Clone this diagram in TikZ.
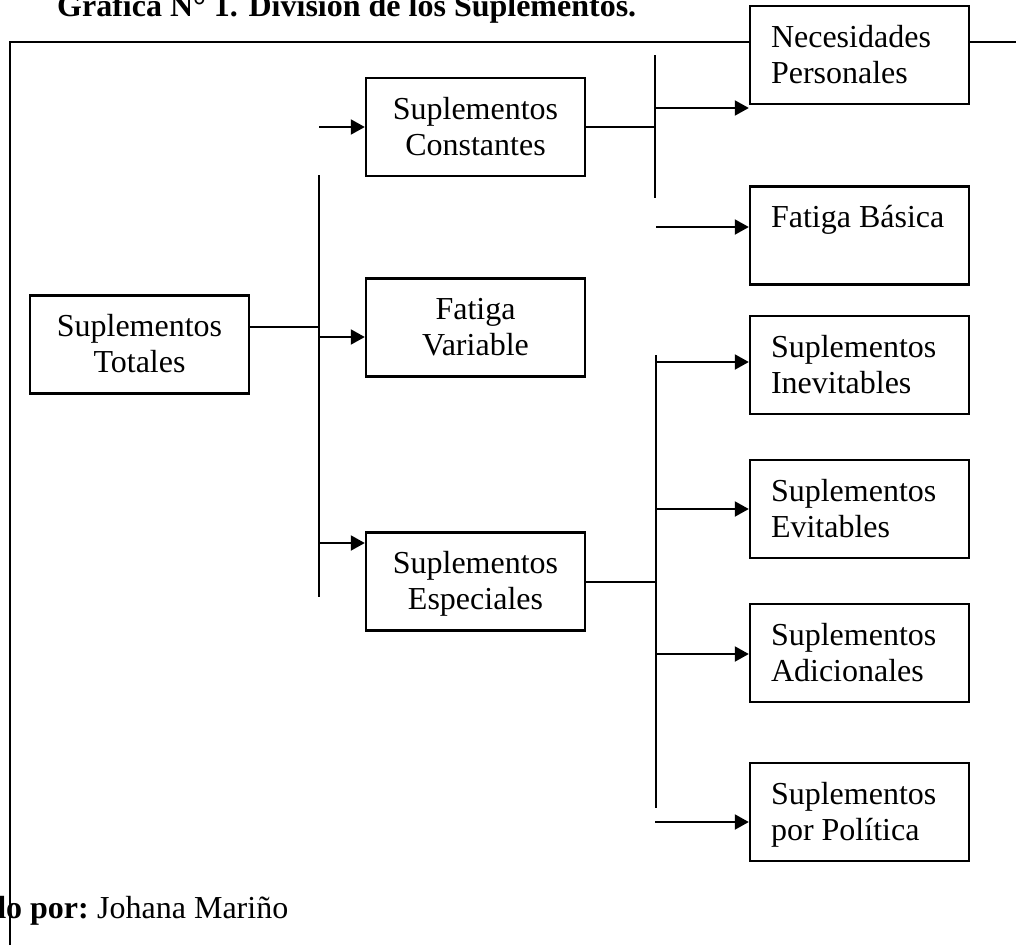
\documentclass[tikz,border=0pt]{standalone}
\usepackage{fontspec}
\setmainfont{Liberation Serif}
\usetikzlibrary{arrows.meta, positioning}
\tikzset{
    caja/.style={draw=black, line width=2.4pt, fill=white, text width=177pt, inner xsep=21pt, inner ysep=0pt, text height=41pt, text depth=57pt, font=\fontsize{32}{36}\selectfont},
    cajac/.style={caja, align=flush center},
    cajai/.style={caja, align=flush left},
    linea/.style={line width=2pt, black},
    flecha/.style={linea, -{Triangle[length=14pt, width=15pt]}},
    marco/.style={line width=2.2pt, black},
    txt/.style={inner sep=0pt, font=\fontsize{32}{36}\selectfont}
}

\begin{document}
\begin{tikzpicture}[x=1pt, y=-1pt]
    \useasboundingbox (0,0) rectangle (1016,945);
    \clip (0,0) rectangle (1016,945);
    \fill[white] (0,0) rectangle (1016,945);
    \node[txt, font=\fontsize{32}{36}\selectfont\bfseries, anchor=base west] (titulo) at (57,16) {Gráfica N° 1. División de los Suplementos.};
    \draw[marco] (10,945) -- (10,42) -- (1016,42);
    % nivel 1 y 2
    \node[cajac] (tot) at (139.5,344.5) {Suplementos\\Totales};
    \node[cajac] (cons) at (475.5,127) {Suplementos\\Constantes};
    \node[cajac] (fvar) at (475.5,327.5) {Fatiga\\Variable};
    \node[cajac] (esp) at (475.5,581.5) {Suplementos\\Especiales};
    % nivel 3
    \node[cajai] (nec) at (859.5,55) {Necesidades\\Personales};
    \node[cajai] (fbas) at (859.5,235.5) {Fatiga Básica\\\mbox{}};
    \node[cajai] (inev) at (859.5,365) {Suplementos\\Inevitables};
    \node[cajai] (evit) at (859.5,509) {Suplementos\\Evitables};
    \node[cajai] (adic) at (859.5,653) {Suplementos\\Adicionales};
    \node[cajai] (pol) at (859.5,812) {Suplementos\\por Política};
    % barras
    \coordinate (b1a) at (319,175);
    \coordinate (b1b) at (319,597);
    \coordinate (b2a) at (655,55);
    \coordinate (b2b) at (655,198);
    \coordinate (b3a) at (656,355);
    \coordinate (b3b) at (656,808);
    \draw[linea] (b1a) -- (b1b);
    \draw[linea] (b2a) -- (b2b);
    \draw[linea] (b3a) -- (b3b);
    \coordinate (t1) at (319,327);
    \draw[linea] (tot.east |- t1) -- (t1);
    \draw[linea] (cons.east) -- (cons.east -| b2a);
    \draw[linea] (esp.east) -- (esp.east -| b3a);
    % flechas
    \coordinate (f1) at (319,127);
    \coordinate (f2) at (319,337);
    \coordinate (f3) at (319,543);
    \draw[flecha] (f1) -- (f1 -| cons.west);
    \draw[flecha] (f2) -- (f2 -| fvar.west);
    \draw[flecha] (f3) -- (f3 -| esp.west);
    \coordinate (g1) at (655,108);
    \coordinate (g2) at (656,227);
    \coordinate (g3) at (656,362);
    \coordinate (g4) at (656,509);
    \coordinate (g5) at (656,654);
    \coordinate (g6) at (655,822);
    \draw[flecha] (g1) -- (g1 -| nec.west);
    \draw[flecha] (g2) -- (g2 -| fbas.west);
    \draw[flecha] (g3) -- (g3 -| inev.west);
    \draw[flecha] (g4) -- (g4 -| evit.west);
    \draw[flecha] (g5) -- (g5 -| adic.west);
    \draw[flecha] (g6) -- (g6 -| pol.west);
    \node[txt, font=\fontsize{32}{36}\selectfont\bfseries, anchor=base east] (elab) at (89,918) {Elaborado por:};
    \node[txt, anchor=base west] (autor) at (97,918) {Johana Mariño};
\end{tikzpicture}
\end{document}
